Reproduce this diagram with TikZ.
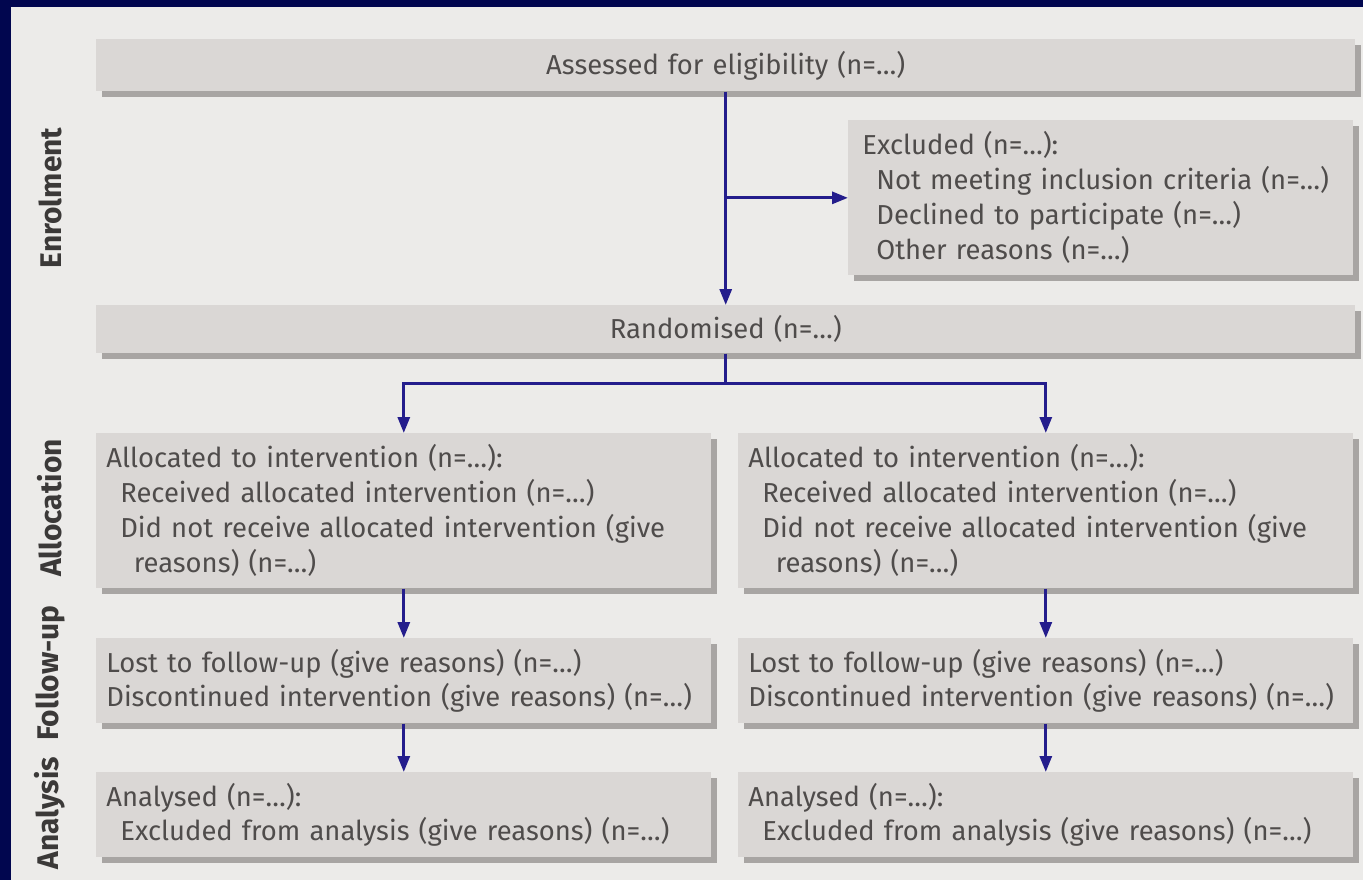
\documentclass[tikz,border=0pt]{standalone}
\usepackage{fontspec}
\setmainfont{Fira Sans}
\usetikzlibrary{arrows.meta, positioning, shadows}
\definecolor{navyframe}{HTML}{01064F}
\definecolor{paper}{HTML}{ECEBE9}
\definecolor{boxgray}{HTML}{DAD7D5}
\definecolor{shadowgray}{HTML}{A8A5A3}
\definecolor{textgray}{HTML}{4F4C4B}
\definecolor{arrowblue}{HTML}{241D8C}
\tikzstyle{box} = [rectangle, anchor=north west, fill=boxgray, text=textgray, inner xsep=0.2cm, inner ysep=0pt, align=left, font=\fontsize{15.6}{19.9}\selectfont, drop shadow={shadow xshift=0.12cm, shadow yshift=-0.12cm, fill=shadowgray, opacity=1}]
\tikzstyle{widebox} = [box, align=center, text width=24.78cm]
\tikzstyle{colbox} = [box, text width=11.9cm]
\tikzstyle{phase} = [rotate=90, text=textgray!75!black, font=\fontsize{17}{20}\selectfont\bfseries]
\tikzstyle{arrow} = [line width=1.7pt, draw=arrowblue, -{Triangle[length=0.32cm, width=0.24cm]}]
\newcommand{\ind}{\hspace*{0.28cm}}
\newcommand{\hang}{\hspace*{0.55cm}}

\begin{document}
\begin{tikzpicture}[x=0.02cm, y=-0.02cm]
    \useasboundingbox (0,0) rectangle (1363,880);
    \fill[navyframe] (0,0) rectangle (1363,880);
    \fill[paper] (11,7) rectangle (1363,880);

    % phase labels down the left side
    \node (enrol) [phase] at (50,198) {Enrolment};
    \node (alloc) [phase] at (50,508) {Allocation};
    \node (follow) [phase] at (50,673) {Follow-up};
    \node (anal) [phase] at (50,813) {Analysis};

    \node (assess) [widebox, minimum height=1.04cm] at (96,39) {Assessed for eligibility (n=…)};
    \node (excl) [box, inner xsep=0.28cm, text width=9.54cm, minimum height=3.1cm] at (848,120) {Excluded (n=…):\\
        \ind Not meeting inclusion criteria (n=…)\\
        \ind Declined to participate (n=…)\\
        \ind Other reasons (n=…)};
    \node (rand) [widebox, minimum height=0.96cm] at (96,305) {Randomised (n=…)};

    \node (allocL) [colbox, minimum height=3.1cm] at (96,433) {Allocated to intervention (n=…):\\
        \ind Received allocated intervention (n=…)\\
        \ind Did not receive allocated intervention (give\\
        \hang reasons) (n=…)};
    \node (allocR) [colbox, minimum height=3.1cm] at (738,433) {Allocated to intervention (n=…):\\
        \ind Received allocated intervention (n=…)\\
        \ind Did not receive allocated intervention (give\\
        \hang reasons) (n=…)};
    \node (followL) [colbox, minimum height=1.7cm] at (96,638) {Lost to follow-up (give reasons) (n=…)\\
        Discontinued intervention (give reasons) (n=…)};
    \node (followR) [colbox, minimum height=1.7cm] at (738,638) {Lost to follow-up (give reasons) (n=…)\\
        Discontinued intervention (give reasons) (n=…)};
    \node (analL) [colbox, minimum height=1.7cm] at (96,772) {Analysed (n=…):\\
        \ind Excluded from analysis (give reasons) (n=…)};
    \node (analR) [colbox, minimum height=1.7cm] at (738,772) {Analysed (n=…):\\
        \ind Excluded from analysis (give reasons) (n=…)};

    \coordinate (branch) at (assess.south |- excl.west);
    \draw [arrow] (assess) -- (rand);
    \draw [arrow] (branch) -- (excl.west);
    \draw [arrow] (rand.south) -- ++(0,-0.6cm) -| (allocL.north);
    \draw [arrow] (rand.south) -- ++(0,-0.6cm) -| (allocR.north);
    \draw [arrow] (allocL) -- (followL);
    \draw [arrow] (allocR) -- (followR);
    \draw [arrow] (followL) -- (analL);
    \draw [arrow] (followR) -- (analR);
\end{tikzpicture}
\end{document}
